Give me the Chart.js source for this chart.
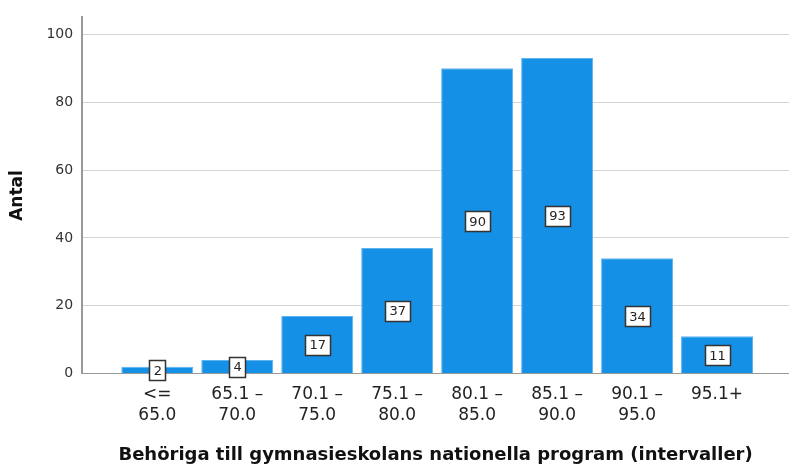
<!DOCTYPE html>
<html>
<head>
<meta charset="utf-8">
<script src="https://cdn.jsdelivr.net/npm/chart.js@4/dist/chart.umd.min.js"></script>
<style>
html,body{margin:0;padding:0;background:#fff;}
#wrap{width:789px;height:466px;position:relative;}
</style>
</head>
<body>
<div id="wrap"><canvas id="c"></canvas></div>
<script>
const categories = [["<=","65.0"],["65.1 –","70.0"],["70.1 –","75.0"],["75.1 –","80.0"],["80.1 –","85.0"],["85.1 –","90.0"],["90.1 –","95.0"],["95.1+"]];
const counts = [2, 4, 17, 37, 90, 93, 34, 11];
const yTicks = [0, 20, 40, 60, 80, 100];
const xTitle = "Behöriga till gymnasieskolans nationella program (intervaller)";
const yTitle = "Antal";

const FONT = "'DejaVu Sans', sans-serif";
const BAR = "#1490e6";

const labelPlugin = {
  id: 'boxLabels',
  afterDatasetsDraw(chart) {
    const ctx = chart.ctx;
    const meta = chart.getDatasetMeta(0);
    ctx.save();
    ctx.font = "13px " + FONT;
    ctx.textAlign = 'center';
    ctx.textBaseline = 'middle';
    meta.data.forEach((el, i) => {
      const p = el.getProps(['x','y','base'], true);
      const cy = (p.y + p.base) / 2;
      const txt = String(counts[i]);
      const w = Math.round(ctx.measureText(txt).width + 8);
      const h = 20;
      const x0 = Math.round(p.x - w/2), y0 = Math.round(cy - h/2);
      ctx.fillStyle = '#fff';
      ctx.fillRect(x0, y0, w, h);
      ctx.strokeStyle = '#333';
      ctx.lineWidth = 1.5;
      ctx.strokeRect(x0 + 0.5, y0 + 0.5, w, h);
      ctx.fillStyle = '#222';
      ctx.fillText(txt, p.x + 0.5, cy + 1.5);
    });
    ctx.restore();
  }
};

new Chart(document.getElementById('c'), {
  type: 'bar',
  data: {
    datasets: [{
      data: counts.map((v, i) => ({x: i, y: v})),
      backgroundColor: BAR,
      borderColor: '#5fb3ef',
      borderWidth: 1,
      categoryPercentage: 1,
      barPercentage: 0.9
    }]
  },
  options: {
    responsive: true,
    maintainAspectRatio: false,
    animation: false,
    layout: { padding: { top: 9, right: 0, left: 7, bottom: 0 } },
    plugins: { legend: { display: false }, tooltip: { enabled: false } },
    scales: {
      x: {
        type: 'linear',
        offset: false,
        min: -0.94,
        max: 7.9,
        afterBuildTicks(axis) { axis.ticks = categories.map((c, i) => ({value: i})); },
        ticks: {
          autoSkip: false,
          maxRotation: 0,
          callback: (v) => categories[v],
          font: { family: FONT, size: 17 },
          color: '#222',
          padding: 11
        },
        grid: { display: false, drawTicks: false },
        border: { color: '#999', width: 1 },
        title: {
          display: true,
          text: xTitle,
          font: { family: FONT, size: 18, weight: 'bold' },
          color: '#111',
          padding: { top: 8, bottom: 0 }
        }
      },
      y: {
        min: 0,
        max: 105,
        afterBuildTicks(axis) { axis.ticks = yTicks.map(v => ({value: v})); },
        ticks: {
          font: { family: FONT, size: 14 },
          color: '#333',
          padding: 9
        },
        grid: { color: '#d4d4d4', lineWidth: 1, drawTicks: false },
        border: { color: '#999', width: 2 },
        title: {
          display: true,
          text: yTitle,
          font: { family: FONT, size: 17, weight: 'bold' },
          color: '#111',
          padding: { top: 0, bottom: 10 }
        }
      }
    }
  },
  plugins: [labelPlugin]
});
</script>
</body>
</html>
